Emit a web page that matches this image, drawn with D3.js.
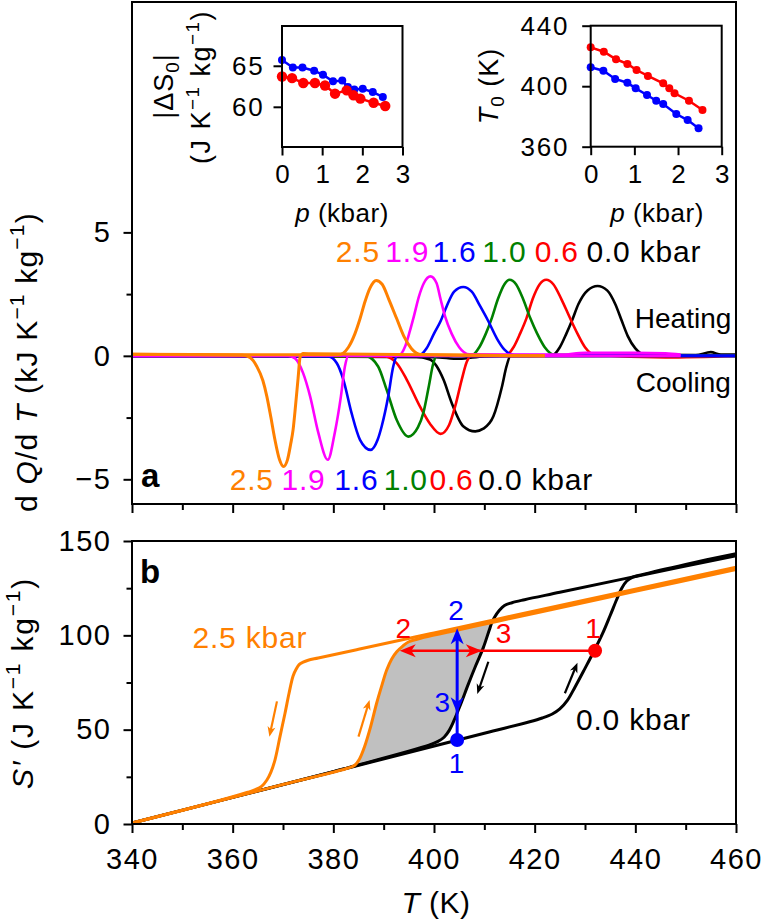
<!DOCTYPE html>
<html><head><meta charset="utf-8">
<script src="https://cdn.jsdelivr.net/npm/d3@7"></script>
<style>
body{margin:0;background:#fff;}
svg{display:block;font-family:"Liberation Sans",Arial,Helvetica,sans-serif;}
</style></head>
<body><svg id="c" width="771" height="922"></svg>
<script>
// ---------------- DATA ----------------
// Inset 1: |ΔS0| vs p
const pSBlue = [0,0.27,0.51,0.80,1.02,1.27,1.50,1.64,1.80,2.01,2.26,2.51];
const dSBlue = [65.7,64.8,64.8,64.4,63.9,63.1,63.2,62.4,62.1,62.2,61.8,61.2];
const pSRed  = [0,0.25,0.53,0.82,1.07,1.32,1.61,1.78,1.95,2.28,2.57];
const dSRed  = [63.7,63.5,62.9,62.9,62.6,61.6,62.0,61.4,61.0,60.5,60.1];
// Inset 2: T0 vs p
const pTRed  = [0,0.30,0.58,0.84,1.05,1.31,1.66,1.80,1.92,2.25,2.56];
const T0Red  = [425.7,422.8,417.8,414.7,410.7,406.8,401.9,398.6,395.3,390.4,384.3];
const pTBlue = [0,0.29,0.56,0.84,1.03,1.29,1.50,1.66,1.96,2.22,2.47];
const T0Blue = [412.5,410.2,404.8,402.3,398.6,394.2,390.4,388.2,381.6,377.6,372.2];
const insetXTicks = [0,1,2,3];
const insetSTicks = [60,65];
const insetTTicks = [360,400,440];

// Panel a: dQ/dT (kJ K-1 kg-1) vs T (K)
const pressures = ["2.5","1.9","1.6","1.0","0.6","0.0"];
const heatBlack = [[340,0],[400,-0.05],[405,-0.12],[410,-0.02],[423.5,0.02],[425,0.35],[426.3,0.9],[427.4,1.42],[428.7,2.1],[430.5,2.65],[432.5,2.83],[434.4,2.65],[436,2.1],[437.3,1.42],[438.5,0.8],[440,0.3],[442,0.04],[452,0.03],[455,0.15],[457,0.05],[460,0.05]];
const heatRed = [[340,0],[414.3,0.02],[415.8,0.35],[417.1,0.9],[418.4,1.54],[419.6,2.3],[421,2.9],[422.3,3.08],[423.7,2.9],[425.3,2.3],[427,1.54],[428.5,0.9],[430,0.35],[432,0.04],[446,-0.06],[460,0]];
const heatGreen = [[340,0],[407.5,0.02],[409,0.35],[410.3,0.9],[411.5,1.54],[412.7,2.3],[414,2.9],[415,3.08],[416.3,2.9],[417.7,2.3],[419.1,1.54],[420.5,0.9],[422,0.35],[424,0.04],[460,0]];
const heatBlue = [[340,0],[397,0.02],[398.5,0.3],[400,0.9],[401.3,1.4],[402.5,2.0],[404,2.6],[405.8,2.79],[407.5,2.6],[409.2,2.0],[410.8,1.4],[412.5,0.7],[414,0.25],[416,0.03],[460,0]];
const heatMagenta = [[340,0],[393,0.02],[394.3,0.4],[395.2,1.0],[396,1.6],[397,2.4],[398,2.95],[399.3,3.22],[400.5,2.95],[401.3,2.3],[402.2,1.6],[403.5,0.9],[405,0.35],[407,0.06],[425,0.05],[430,0.12],[440,0.12],[446,0.1],[449,0.05]];
const heatOrange = [[340,0.06],[381,0.04],[383,0.35],[384.3,0.9],[385.3,1.5],[386.3,2.2],[387.3,2.75],[388.5,3.05],[389.7,2.9],[391,2.3],[392.6,1.5],[394,0.8],[395.5,0.3],[397.5,0.05],[422,0.0]];
const coolBlack = [[340,0],[396,-0.02],[399.2,-0.15],[401.9,-0.97],[403.5,-1.9],[405.8,-2.85],[408.2,-3.06],[409.8,-2.95],[411.8,-2.45],[413.5,-1.25],[414.4,-0.43],[415.2,0],[460,0.02]];
const coolRed = [[340,0],[390.3,-0.02],[392.6,-0.3],[394.6,-0.97],[397.2,-2.05],[399.2,-2.75],[401.3,-3.16],[403,-2.8],[404.2,-2.05],[405.5,-0.97],[406.5,-0.25],[407.3,0],[460,0]];
const coolGreen = [[340,0],[386.5,-0.02],[388.9,-0.43],[390.6,-1.38],[392.6,-2.6],[394.9,-3.27],[396.8,-2.9],[397.9,-2.3],[399.0,-1.2],[399.8,-0.35],[400.5,0],[460,0]];
const coolBlue = [[340,0],[379,-0.02],[380.7,-0.3],[382,-0.97],[383.6,-2.3],[385.3,-3.4],[387.4,-3.81],[388.8,-3.4],[389.6,-2.86],[390.9,-1.65],[391.9,-0.43],[392.7,0],[460,0]];
const coolMagenta = [[340,0],[371,0.0],[372.4,-0.1],[374,-0.7],[375.4,-1.65],[377,-3.1],[378.9,-4.21],[380.3,-3.1],[381.5,-1.65],[382.3,-0.43],[383,0.0],[449,0]];
const coolOrange = [[340,0.06],[362,0.02],[363.5,-0.08],[364.8,-0.43],[366,-1.0],[366.8,-1.65],[367.6,-2.5],[368.4,-3.4],[369.3,-4.2],[370.1,-4.48],[370.9,-4.2],[371.5,-3.6],[372,-3.0],[372.5,-2.0],[373,-0.9],[373.4,-0.05],[374,0.1],[376,0.08],[422,0.0]];

// Panel b: S' (J K-1 kg-1) vs T (K)
const sBlackHeat = [[340,0.5],[380,27.7],[410,48.1],[419,54.2],[421.5,56.2],[423.5,58.3],[425,61],[426.5,65.5],[428,72.5],[430,82.5],[431.8,91.7],[433.5,101],[435,110.5],[436.3,119],[437.3,125],[438.3,128.8],[439.5,130.8],[441.5,132.3],[450,137.6],[460,143.3]];
const sBlackCool = [[460,142.2],[440,131.2],[425,122.8],[418,118.9],[415.5,117.3],[414,115.8],[413,113.3],[412,109.5],[411.5,106.8],[411,103],[409.8,93.5],[408.3,84],[406.8,74],[405.3,63.5],[404,55],[403,49.5],[402,46],[400.8,43.8],[399,41.8],[383,29.9],[380,27.7],[360,14.1],[340,0.5]];
const sOrangeHeat = [[340,0.5],[370,20.9],[383,29.7],[384.2,31],[385.2,34.5],[386.2,41],[387.4,51.5],[388.6,64],[389.7,74],[390.6,81.6],[391.6,87.5],[392.6,91.3],[393.8,94.3],[395,96.6],[398,98.9],[405,103],[411.5,106.8],[420,111.7],[440,123.3],[460,134.9]];
const sOrangeCool = [[460,136.1],[440,124.5],[420,112.9],[400,101.3],[385,92.6],[377,88],[375,86.8],[374,85.8],[373.2,84.5],[372.6,82],[372.0,78.5],[371.2,69.3],[370.4,58.7],[369.4,46.3],[368.4,33.9],[367.6,27.5],[366.8,23.3],[365.8,20.1],[364.5,18.2],[363,16.8],[355,10.7],[340,0.5]];
const shadeRange = [383, 411.5];
const redPath = {S:91.8, T2:393.2, T3:409.5, T1:432.0};
const bluePath = {T:404.6, S1:44.5, S3:58.7, S2:103.7};
const blackArrows = [[[426.0,69.3],[428.5,85.5]],[[410.8,86.0],[408.6,68.9]]];
const orangeArrows = [[[385.0,46.3],[387.2,65.7]],[[368.8,65.0],[367.3,46.3]]];
const xTicksMajor = [340,360,380,400,420,440,460];
const xTicksMinor = [350,370,390,410,430,450];
const aTicksMajor = [-5,0,5];
const aTicksMinor = [-2.5,2.5];
const bTicksMajor = [0,50,100,150];
const bTicksMinor = [25,75,125];

// ---------------- DRAW ----------------
const svg = d3.select("#c");
const FS = 29;
const COL = {black:"#000000", red:"#ff0000", green:"#008000", blue:"#0000ff", magenta:"#ff00ff", orange:"#ff8000"};

const x  = d3.scaleLinear().domain([340,460]).range([132,736]);
const yA = d3.scaleLinear().domain([-6,14.33]).range([504,2]);
const yB = d3.scaleLinear().domain([0,150]).range([824,541]);
const xS = d3.scaleLinear().domain([0,3]).range([282,402.5]);
const yS = d3.scaleLinear().domain([55.1,69.85]).range([147,26]);
const xT = d3.scaleLinear().domain([0,3]).range([590.7,721.7]);
const yT = d3.scaleLinear().domain([360,440]).range([146.7,25.7]);

function rich(g, xx, yy, parts, fs, opts={}) {
  const t = g.append("text").attr("x",xx).attr("y",yy).attr("font-size",fs)
    .attr("text-anchor", opts.anchor||"start").attr("fill", opts.fill||"#000")
    .attr("letter-spacing", opts.ls||0);
  if (opts.rotate) t.attr("transform",`rotate(-90,${xx},${yy})`);
  let shift = 0;
  parts.forEach(p=>{
    const s = t.append("tspan").text(p.t);
    let target = 0;
    if (p.sup) { target = -0.42*fs; s.attr("font-size", 0.7*fs); }
    if (p.sub) { target = 0.22*fs; s.attr("font-size", 0.7*fs); }
    if (target!==shift) { s.attr("dy", target-shift); shift = target; }
    if (p.i) s.attr("font-style","italic");
  });
  return t;
}

function styleAxis(g, fs, ls) {
  g.select(".domain").remove();
  g.selectAll(".tick line").attr("stroke","#000").attr("stroke-width",2);
  g.selectAll(".tick text").attr("font-size",fs).attr("fill","#000")
    .attr("letter-spacing", ls||0)
    .attr("font-family",'"Liberation Sans",Arial,sans-serif');
}

// ---- Panel a ----
const gA = svg.append("g");
const axA1 = gA.append("g").attr("transform","translate(132,0)")
  .call(d3.axisLeft(yA).tickValues(aTicksMajor).tickSize(8.5).tickPadding(12).tickFormat(d3.format("d")));
styleAxis(axA1, FS, 1.5);
const axA2 = gA.append("g").attr("transform","translate(132,0)")
  .call(d3.axisLeft(yA).tickValues(aTicksMinor).tickSize(5.5).tickFormat(""));
styleAxis(axA2, FS);
const axA3 = gA.append("g").attr("transform","translate(0,504)")
  .call(d3.axisBottom(x).tickValues(xTicksMajor).tickSize(9).tickFormat(""));
styleAxis(axA3, FS);
const axA4 = gA.append("g").attr("transform","translate(0,504)")
  .call(d3.axisBottom(x).tickValues(xTicksMinor).tickSize(6).tickFormat(""));
styleAxis(axA4, FS);

const lineA = d3.line().x(d=>x(d[0])).y(d=>yA(d[1])).curve(d3.curveMonotoneX);
const aSeries = [
  [heatBlack,"black"],[coolBlack,"black"],
  [heatRed,"red"],[coolRed,"red"],
  [heatGreen,"green"],[coolGreen,"green"],
  [heatBlue,"blue"],[coolBlue,"blue"],
  [heatMagenta,"magenta"],[coolMagenta,"magenta"],
  [heatOrange,"orange"],[coolOrange,"orange"]
];
aSeries.forEach(([d,c])=>{
  gA.append("path").attr("d",lineA(d)).attr("fill","none").attr("stroke",COL[c])
    .attr("stroke-width", c==="orange"?3:2.6).attr("stroke-linejoin","round");
});
gA.append("rect").attr("x",132).attr("y",2).attr("width",604).attr("height",502)
  .attr("fill","none").attr("stroke","#000").attr("stroke-width",2);

// pressure labels
const pColors = ["orange","magenta","blue","green","red","black"];
const topStarts = [380.5,390.3,399.7,409.6,420.0,430.3];
const botStarts = [359.4,369.7,380.2,390.0,399.1,408.8];
pressures.forEach((p,i)=>{
  const txt = p + (i===5?" kbar":"");
  gA.append("text").attr("x",x(topStarts[i])).attr("y",yA(3.82)).attr("font-size",30)
    .attr("letter-spacing",0.8).attr("fill",COL[pColors[i]]).text(txt);
  gA.append("text").attr("x",x(botStarts[i])).attr("y",yA(-5.43)).attr("font-size",30)
    .attr("letter-spacing",0.8).attr("fill",COL[pColors[i]]).text(txt);
});
gA.append("text").attr("x",x(439.9)).attr("y",yA(1.13)).attr("font-size",28).text("Heating");
gA.append("text").attr("x",x(440.1)).attr("y",yA(-1.46)).attr("font-size",28).text("Cooling");
gA.append("text").attr("x",x(341.8)).attr("y",yA(-5.3)).attr("font-size",33).attr("font-weight","bold").text("a");

rich(svg, 37, 362, [{t:"d "},{t:"Q",i:1},{t:"/d "},{t:"T",i:1},{t:" (kJ K"},{t:"−1",sup:1},{t:" kg"},{t:"−1",sup:1},{t:")"}], 30, {anchor:"middle", rotate:1, ls:1.2});

// ---- Insets ----
function inset(xs, ys, yTicks, seriesList, labelPad, tickLab) {
  const g = svg.append("g");
  const [x0,x1] = xs.range(); const [y1,y0] = ys.range();
  const ax1 = g.append("g").attr("transform",`translate(${x0},0)`)
    .call(d3.axisLeft(ys).tickValues(yTicks).tickSize(8.5).tickPadding(labelPad).tickFormat(d3.format("d")));
  styleAxis(ax1, 26, 1.8);
  const ax2 = g.append("g").attr("transform",`translate(0,${y1})`)
    .call(d3.axisBottom(xs).tickValues(insetXTicks).tickSize(8.5).tickPadding(tickLab).tickFormat(d3.format("d")));
  styleAxis(ax2, 26);
  seriesList.forEach(s=>{
    const pts = s.p.map((p,i)=>[p,s.v[i]]);
    g.append("path").attr("d", d3.line().x(d=>xs(d[0])).y(d=>ys(d[1]))(pts))
      .attr("fill","none").attr("stroke",s.c).attr("stroke-width",2.5);
    g.selectAll(null).data(pts).enter().append("circle")
      .attr("cx",d=>xs(d[0])).attr("cy",d=>ys(d[1])).attr("r",s.r).attr("fill",s.c);
  });
  g.append("rect").attr("x",x0).attr("y",y0).attr("width",x1-x0).attr("height",y1-y0)
    .attr("fill","none").attr("stroke","#000").attr("stroke-width",2);
  return g;
}
inset(xS, yS, insetSTicks, [
  {p:pSBlue, v:dSBlue, c:COL.blue, r:4},
  {p:pSRed, v:dSRed, c:COL.red, r:5.2}
], 9, 9);
inset(xT, yT, insetTTicks, [
  {p:pTRed, v:T0Red, c:COL.red, r:4},
  {p:pTBlue, v:T0Blue, c:COL.blue, r:4}
], 13, 9);
rich(svg, 173, 86, [{t:"|ΔS"},{t:"0",sub:1},{t:"|"}], 27, {anchor:"middle", rotate:1, ls:1});
rich(svg, 210, 87, [{t:"(J K"},{t:"−1",sup:1},{t:" kg"},{t:"−1",sup:1},{t:")"}], 27, {anchor:"middle", rotate:1, ls:1.5});
rich(svg, 342, 222, [{t:"p",i:1},{t:" (kbar)"}], 26, {anchor:"middle", ls:0.5});
rich(svg, 498, 86, [{t:"T",i:1},{t:"0",sub:1},{t:" (K)"}], 27, {anchor:"middle", rotate:1, ls:1});
rich(svg, 657, 222, [{t:"p",i:1},{t:" (kbar)"}], 26, {anchor:"middle", ls:0.5});

// ---- Panel b ----
const gB = svg.append("g");
const axB1 = gB.append("g").attr("transform","translate(132,0)")
  .call(d3.axisLeft(yB).tickValues(bTicksMajor).tickSize(8.5).tickPadding(12).tickFormat(d3.format("d")));
styleAxis(axB1, FS, 1.5);
const axB2 = gB.append("g").attr("transform","translate(132,0)")
  .call(d3.axisLeft(yB).tickValues(bTicksMinor).tickSize(5.5).tickFormat(""));
styleAxis(axB2, FS);
const axB3 = gB.append("g").attr("transform","translate(0,824)")
  .call(d3.axisBottom(x).tickValues(xTicksMajor).tickSize(9).tickPadding(15).tickFormat(d3.format("d")));
styleAxis(axB3, FS, 1.5);
const axB4 = gB.append("g").attr("transform","translate(0,824)")
  .call(d3.axisBottom(x).tickValues(xTicksMinor).tickSize(6).tickFormat(""));
styleAxis(axB4, FS);

const lineB = d3.line().x(d=>x(d[0])).y(d=>yB(d[1])).curve(d3.curveCatmullRom.alpha(0.5));
const sub1 = sOrangeHeat.filter(d=>d[0]>=shadeRange[0] && d[0]<=shadeRange[1]);
const sub2 = sBlackCool.filter(d=>d[0]>=shadeRange[0] && d[0]<=shadeRange[1]);
gB.append("path").attr("d", lineB(sub1) + lineB(sub2).replace(/^M/,"L") + "Z")
  .attr("fill","#c0c0c0").attr("stroke","none");

[[sBlackHeat,"black",3],[sBlackCool,"black",3],[sOrangeCool,"orange",3],[sOrangeHeat,"orange",3]].forEach(([d,c,w])=>{
  gB.append("path").attr("d",lineB(d)).attr("fill","none").attr("stroke",COL[c])
    .attr("stroke-width",w).attr("stroke-linejoin","round");
});

function arrowHead(g, px0, py0, px1, py1, len, wid, col) {
  const a = Math.atan2(py1-py0, px1-px0);
  const ca=Math.cos(a), sa=Math.sin(a);
  const bx = px1 - len*ca, by = py1 - len*sa;
  const nx = px1 - 0.72*len*ca, ny = py1 - 0.72*len*sa;
  const pts = [[px1,py1],[bx - wid/2*sa, by + wid/2*ca],[nx,ny],[bx + wid/2*sa, by - wid/2*ca]];
  g.append("path").attr("d","M"+pts.map(p=>p.join(",")).join("L")+"Z").attr("fill",col);
}
function arrow(g, d, col, w, len, wid) {
  const [a,b] = d;
  const p0=[x(a[0]),yB(a[1])], p1=[x(b[0]),yB(b[1])];
  const ang = Math.atan2(p1[1]-p0[1], p1[0]-p0[0]);
  g.append("line").attr("x1",p0[0]).attr("y1",p0[1])
    .attr("x2",p1[0]-0.6*len*Math.cos(ang)).attr("y2",p1[1]-0.6*len*Math.sin(ang))
    .attr("stroke",col).attr("stroke-width",w);
  arrowHead(g, p0[0],p0[1],p1[0],p1[1],len,wid,col);
}
blackArrows.forEach(d=>arrow(gB,d,"#000",2.2,10,8));
orangeArrows.forEach(d=>arrow(gB,d,COL.orange,2.2,10,8));

const ry = yB(redPath.S);
gB.append("line").attr("x1",x(redPath.T2)+8).attr("y1",ry).attr("x2",x(redPath.T1)).attr("y2",ry)
  .attr("stroke",COL.red).attr("stroke-width",2.5);
arrowHead(gB, x(redPath.T2)+30, ry, x(redPath.T2), ry, 16, 13, COL.red);
arrowHead(gB, x(redPath.T3)-30, ry, x(redPath.T3), ry, 16, 13, COL.red);
gB.append("circle").attr("cx",x(redPath.T1)).attr("cy",ry).attr("r",7).attr("fill",COL.red);

const bx = x(bluePath.T);
gB.append("line").attr("x1",bx).attr("y1",yB(bluePath.S1)).attr("x2",bx).attr("y2",yB(bluePath.S2)+8)
  .attr("stroke",COL.blue).attr("stroke-width",3);
arrowHead(gB, bx, yB(bluePath.S2)+30, bx, yB(bluePath.S2), 16, 13, COL.blue);
arrowHead(gB, bx, yB(bluePath.S3)-30, bx, yB(bluePath.S3), 16, 13, COL.blue);
gB.append("circle").attr("cx",bx).attr("cy",yB(bluePath.S1)).attr("r",7).attr("fill",COL.blue);

const numLab = [
  ["1",431.6,98.6,COL.red,"middle"],["2",393.9,98.6,COL.red,"middle"],["3",413.8,95.9,COL.red,"middle"],
  ["2",404.4,108.1,COL.blue,"middle"],["3",403.2,59.5,COL.blue,"end"],["1",404.5,27.0,COL.blue,"middle"]
];
numLab.forEach(([t,T,S,c,an])=>{
  gB.append("text").attr("x",x(T)).attr("y",yB(S)).attr("font-size",28).attr("fill",c)
    .attr("text-anchor",an).text(t);
});
gB.append("text").attr("x",x(352.0)).attr("y",yB(93.1)).attr("font-size",30).attr("letter-spacing",0.8).attr("fill",COL.orange).text("2.5 kbar");
gB.append("text").attr("x",x(428.2)).attr("y",yB(49.8)).attr("font-size",30).attr("letter-spacing",0.8).attr("fill","#000").text("0.0 kbar");
gB.append("text").attr("x",x(341.6)).attr("y",yB(127.7)).attr("font-size",33).attr("font-weight","bold").text("b");

gB.append("rect").attr("x",132).attr("y",541).attr("width",604).attr("height",283)
  .attr("fill","none").attr("stroke","#000").attr("stroke-width",2);

rich(svg, 33, 683, [{t:"S′",i:1},{t:" (J K"},{t:"−1",sup:1},{t:" kg"},{t:"−1",sup:1},{t:")"}], 30, {anchor:"middle", rotate:1, ls:1.8});
rich(svg, 436, 913, [{t:"T",i:1},{t:" (K)"}], 30, {anchor:"middle", ls:0.5});
</script></body></html>
